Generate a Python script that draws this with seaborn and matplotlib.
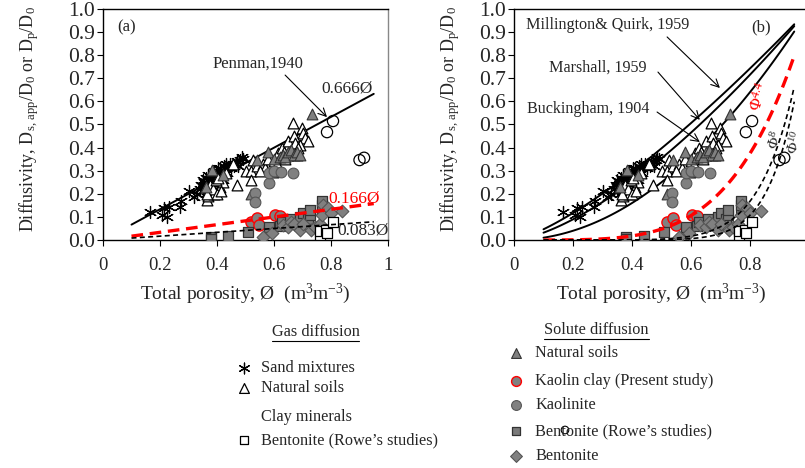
import numpy as np
import matplotlib
matplotlib.use("Agg")
import matplotlib.pyplot as plt
import seaborn as sns

# ---------------- data ----------------
# Gas diffusion: sand mixtures (asterisks)
sand_x = [0.165, 0.206, 0.224, 0.215, 0.232, 0.27, 0.275, 0.30, 0.32, 0.33, 0.34, 0.35,
          0.355, 0.36, 0.365, 0.37, 0.375, 0.38, 0.385, 0.387, 0.39, 0.395, 0.40, 0.40,
          0.405, 0.41, 0.415, 0.42, 0.425, 0.43, 0.44, 0.445, 0.455, 0.46, 0.47, 0.48,
          0.486, 0.36, 0.38, 0.40, 0.37, 0.42, 0.35, 0.39, 0.345, 0.352, 0.362, 0.368,
          0.372, 0.378, 0.383, 0.392, 0.398, 0.403, 0.408, 0.412, 0.418, 0.435, 0.45,
          0.465, 0.475, 0.49, 0.43, 0.41]
sand_y = [0.121, 0.108, 0.10, 0.14, 0.145, 0.143, 0.17, 0.21, 0.187, 0.20, 0.22, 0.23,
          0.25, 0.24, 0.21, 0.26, 0.22, 0.27, 0.25, 0.26, 0.23, 0.29, 0.28, 0.24,
          0.31, 0.29, 0.27, 0.30, 0.32, 0.31, 0.316, 0.33, 0.33, 0.32, 0.34, 0.345,
          0.36, 0.20, 0.21, 0.22, 0.28, 0.26, 0.26, 0.30, 0.24, 0.21, 0.27, 0.23,
          0.24, 0.25, 0.23, 0.26, 0.27, 0.25, 0.28, 0.26, 0.28, 0.29, 0.31,
          0.33, 0.32, 0.35, 0.33, 0.31]

# Gas diffusion: natural soils (open triangles)
gsoil_x = [0.364, 0.37, 0.38, 0.39, 0.41, 0.42, 0.457, 0.47, 0.50, 0.52, 0.52, 0.527,
           0.54, 0.56, 0.57, 0.58, 0.597, 0.60, 0.615, 0.62, 0.627, 0.635, 0.65, 0.65,
           0.66, 0.667, 0.67, 0.68, 0.697, 0.703, 0.71, 0.72, 0.64, 0.69, 0.375, 0.385,
           0.395, 0.40, 0.405, 0.415, 0.365, 0.43, 0.55, 0.61, 0.675, 0.685]
gsoil_y = [0.173, 0.19, 0.21, 0.20, 0.23, 0.25, 0.33, 0.238, 0.30, 0.30, 0.26, 0.346,
           0.32, 0.33, 0.31, 0.35, 0.295, 0.34, 0.375, 0.36, 0.40, 0.38, 0.43, 0.37,
           0.39, 0.506, 0.45, 0.37, 0.485, 0.462, 0.44, 0.43, 0.35, 0.41, 0.24, 0.22,
           0.26, 0.20, 0.27, 0.21, 0.20, 0.29, 0.30, 0.33, 0.42, 0.40]

# Gas diffusion: clay minerals (open circles)
gclay_x = [0.786, 0.807, 0.90, 0.916]
gclay_y = [0.467, 0.515, 0.346, 0.356]

# Gas diffusion: bentonite, Rowe's studies (open squares)
gbent_x = [0.762, 0.762, 0.783, 0.787, 0.807]
gbent_y = [0.02, 0.04, 0.043, 0.03, 0.078]

# Solute diffusion: natural soils (grey triangles)
ssoil_x = [0.36, 0.383, 0.42, 0.52, 0.54, 0.58, 0.60, 0.62, 0.63, 0.64, 0.65, 0.66,
           0.67, 0.68, 0.69, 0.733]
ssoil_y = [0.23, 0.305, 0.28, 0.20, 0.346, 0.38, 0.35, 0.36, 0.37, 0.36, 0.38, 0.39,
           0.37, 0.38, 0.37, 0.545]

# Solute diffusion: kaolin clay, present study (grey circles, red edge)
kaolin_x = [0.52, 0.54, 0.548, 0.603, 0.62]
kaolin_y = [0.08, 0.094, 0.065, 0.108, 0.105]

# Solute diffusion: kaolinite (grey circles)
kaolinite_x = [0.534, 0.534, 0.584, 0.584, 0.60, 0.623, 0.666]
kaolinite_y = [0.203, 0.165, 0.245, 0.29, 0.30, 0.295, 0.29]

# Solute diffusion: bentonite, Rowe's studies (grey squares)
sbentR_x = [0.38, 0.38, 0.44, 0.51, 0.584, 0.584, 0.62, 0.628, 0.656, 0.69, 0.70,
            0.72, 0.727, 0.727, 0.768, 0.768, 0.768]
sbentR_y = [0.013, 0.005, 0.017, 0.034, 0.043, 0.055, 0.06, 0.078, 0.09, 0.10, 0.115,
            0.09, 0.108, 0.128, 0.13, 0.152, 0.17]

# Solute diffusion: bentonite (grey diamonds)
sbent_x = [0.56, 0.592, 0.63, 0.65, 0.66, 0.67, 0.69, 0.70, 0.73, 0.744, 0.76,
           0.768, 0.773, 0.79, 0.80, 0.838]
sbent_y = [0.012, 0.03, 0.066, 0.055, 0.08, 0.068, 0.043, 0.07, 0.045, 0.057, 0.07,
           0.11, 0.15, 0.14, 0.115, 0.127]

# Model coefficients / exponents
penman_coef = 0.666
red_coef = 0.166
black_coef = 0.083
mq_exp = 4 / 3
marshall_exp = 1.5
buck_exp = 2.0
red_exp = 4.4
exp8 = 8.0
exp10 = 10.0

x_ticks_a = [0, 0.2, 0.4, 0.6, 0.8, 1.0]
x_tick_labels_a = ["0", "0.2", "0.4", "0.6", "0.8", "1"]
y_ticks = [round(0.1 * i, 1) for i in range(11)]
y_tick_labels = [f"{v:.1f}" for v in y_ticks]

# ---------------- style ----------------
sns.set_theme(style="white")
plt.rcParams["font.family"] = ["Liberation Serif", "DejaVu Serif"]
plt.rcParams["mathtext.fontset"] = "custom"
plt.rcParams["mathtext.rm"] = "Liberation Serif"
plt.rcParams["mathtext.it"] = "Liberation Serif:italic"

GREY = "#808080"
XTICK_FS = 13.5
YTICK_FS = 15.5
LABEL_FS = 14

W, H = 805, 468
fig = plt.figure(figsize=(W / 100, H / 100), dpi=100)


def px_axes(left, top, right, bottom):
    return fig.add_axes([left / W, 1 - bottom / H, (right - left) / W, (bottom - top) / H])


ax_a = px_axes(103, 9, 388, 240)
ax_b = px_axes(514, 9, 809, 240)

xs = np.linspace(0.1, 0.95, 120)


def draw_points(ax):
    kw = dict(ax=ax, legend=False, zorder=3)
    sns.scatterplot(x=sand_x, y=sand_y, marker=(6, 2, 0), s=75, color="black",
                    linewidth=0.9, **kw)
    sns.scatterplot(x=gsoil_x, y=gsoil_y, marker="^", s=60, facecolor="white",
                    edgecolor="black", linewidth=0.9, **kw)
    sns.scatterplot(x=ssoil_x, y=ssoil_y, marker="^", s=60, color=GREY,
                    edgecolor="#333333", linewidth=0.8, **kw)
    sns.scatterplot(x=kaolinite_x, y=kaolinite_y, marker="o", s=60, color=GREY,
                    edgecolor="#555555", linewidth=0.8, **kw)
    sns.scatterplot(x=kaolin_x, y=kaolin_y, marker="o", s=65, color=GREY,
                    edgecolor="red", linewidth=1.0, **kw)
    sns.scatterplot(x=sbentR_x, y=sbentR_y, marker="s", s=55, color="#7a7a7a",
                    edgecolor="#333333", linewidth=0.9, **kw)
    sns.scatterplot(x=sbent_x, y=sbent_y, marker="D", s=42, color=GREY,
                    edgecolor="#555555", linewidth=0.8, **kw)
    sns.scatterplot(x=gbent_x, y=gbent_y, marker="s", s=50, facecolor="white",
                    edgecolor="black", linewidth=0.9, **kw)
    sns.scatterplot(x=gclay_x, y=gclay_y, marker="o", s=65, facecolor="none",
                    edgecolor="black", linewidth=0.9, **kw)


def style_axes(ax, xticks, xlabels, xlim, ylabel_x):
    ax.set_xlim(*xlim)
    ax.set_ylim(0, 1.0)
    ax.set_xticks(xticks)
    ax.set_xticklabels(xlabels, fontsize=XTICK_FS)
    ax.set_yticks(y_ticks)
    ax.set_yticklabels(y_tick_labels, fontsize=YTICK_FS)
    ax.tick_params(direction="out", length=4, width=0.8, color="black",
                   bottom=True, left=True)
    ax.tick_params(axis="x", pad=8)
    ax.tick_params(axis="y", pad=2)
    for s in ax.spines.values():
        s.set_color("black")
        s.set_linewidth(1.0)
    ax.spines["right"].set_color("#888888")
    ax.set_xlabel(r"Total porosity, Ø  (m$^3$m$^{-3}$)", fontsize=LABEL_FS, labelpad=6)
    ax.set_ylabel(r"Diffusivity, D$_{\mathrm{s,\,app}}$/D$_0$ or D$_\mathrm{p}$/D$_0$",
                  fontsize=13)
    ax.yaxis.set_label_coords(ylabel_x, 0.525)
    ax.grid(False)


arrow_kw = dict(arrowstyle="->", color="black", lw=0.8, shrinkA=0, shrinkB=0,
                mutation_scale=14)

# ---------- panel (a) ----------
draw_points(ax_a)
sns.lineplot(x=xs, y=penman_coef * xs, ax=ax_a, color="black", lw=1.4, zorder=2)
sns.lineplot(x=xs, y=red_coef * xs, ax=ax_a, color="red", lw=2.4, zorder=4)
ax_a.lines[-1].set_linestyle((0, (3.5, 2)))
sns.lineplot(x=xs, y=black_coef * xs, ax=ax_a, color="black", lw=1.2, zorder=4)
ax_a.lines[-1].set_linestyle((0, (3, 2)))
style_axes(ax_a, x_ticks_a, x_tick_labels_a, (0, 1), -0.219)

ax_a.text(0.05, 0.955, "(a)", transform=ax_a.transAxes, fontsize=12, va="top")
ax_a.text(0.385, 0.765, "Penman,1940", fontsize=12, ha="left", va="center")
ax_a.annotate("", xy=(0.786, 0.532), xytext=(0.639, 0.714), arrowprops=arrow_kw)
ax_a.text(0.765, 0.655, "0.666Ø", fontsize=12.5, ha="left", va="center")
ax_a.text(0.79, 0.18, "0.166Ø", fontsize=12.5, color="red", ha="left", va="center")
ax_a.text(0.822, 0.043, "0.083Ø", fontsize=12.5, ha="left", va="center")

# ---------- panel (b) ----------
draw_points(ax_b)
for e in (mq_exp, marshall_exp, buck_exp):
    sns.lineplot(x=xs, y=xs ** e, ax=ax_b, color="black", lw=1.4, zorder=2)
sns.lineplot(x=xs, y=xs ** red_exp, ax=ax_b, color="red", lw=2.4, zorder=4)
ax_b.lines[-1].set_linestyle((0, (3.5, 2)))
for e in (exp8, exp10):
    sns.lineplot(x=xs, y=xs ** e, ax=ax_b, color="black", lw=1.2, zorder=4)
    ax_b.lines[-1].set_linestyle((0, (3, 2)))
style_axes(ax_b, x_ticks_a[:-1], x_tick_labels_a[:-1], (0, 1), -0.175)

ax_b.text(0.805, 0.955, "(b)", transform=ax_b.transAxes, fontsize=12, va="top")
ax_b.text(0.04, 0.93, "Millington& Quirk, 1959", fontsize=11.6, ha="left", va="center")
ax_b.annotate("", xy=(0.698, 0.658), xytext=(0.519, 0.879), arrowprops=arrow_kw)
ax_b.text(0.12, 0.745, "Marshall, 1959", fontsize=11.6, ha="left", va="center")
ax_b.annotate("", xy=(0.63, 0.52), xytext=(0.488, 0.727), arrowprops=arrow_kw)
ax_b.text(0.045, 0.565, "Buckingham, 1904", fontsize=11.6, ha="left", va="center")
ax_b.annotate("", xy=(0.63, 0.424), xytext=(0.485, 0.554), arrowprops=arrow_kw)
ax_b.text(0.834, 0.62, r"Φ$^{\mathit{4.4}}$", fontsize=12, color="red", rotation=72,
          ha="center", va="center")
ax_b.text(0.885, 0.433, r"Φ$^{\mathit{8}}$", fontsize=11, rotation=72,
          ha="center", va="center")
ax_b.text(0.953, 0.42, r"Φ$^{\mathit{10}}$", fontsize=11, rotation=72,
          ha="center", va="center")

# ---------- legend panel ----------
lg = fig.add_axes([0, 0, 1, 1], facecolor="none")
lg.set_xlim(0, W)
lg.set_ylim(H, 0)
lg.axis("off")
LEG_FS = 11.7

lg.text(272, 332, "Gas diffusion", fontsize=LEG_FS, va="center", ha="left")
lg.plot([272, 359], [341, 341], color="black", lw=0.8)
gas_items = [
    ((6, 2, 0), dict(color="black", s=60, linewidth=0.9), 368, "Sand mixtures"),
    ("^", dict(facecolor="white", edgecolor="black", s=50, linewidth=0.9), 388, "Natural soils"),
    (None, None, 417, "Clay minerals"),
    ("s", dict(facecolor="white", edgecolor="black", s=40, linewidth=0.9), 440,
     "Bentonite (Rowe’s studies)"),
]
for mk, kw, y, label in gas_items:
    if mk is not None:
        lg.scatter([244], [y], marker=mk, **kw)
    lg.text(261, y, label, fontsize=LEG_FS, va="center", ha="left")

lg.text(544, 330, "Solute diffusion", fontsize=LEG_FS, va="center", ha="left")
lg.plot([544, 649], [339, 339], color="black", lw=0.8)
sol_items = [
    ("^", dict(color=GREY, edgecolor="#333333", s=50, linewidth=0.8), 353, "Natural soils"),
    ("o", dict(color=GREY, edgecolor="red", s=50, linewidth=1.0), 381,
     "Kaolin clay (Present study)"),
    ("o", dict(color=GREY, edgecolor="#555555", s=50, linewidth=0.8), 405, "Kaolinite"),
    ("s", dict(color="#7a7a7a", edgecolor="#333333", s=40, linewidth=0.9), 431,
     "Bentonite (Rowe’s studies)"),
    ("D", dict(color=GREY, edgecolor="#555555", s=36, linewidth=0.8), 456, "Bentonite"),
]
for mk, kw, y, label in sol_items:
    lg.scatter([516], [y], marker=mk, **kw)
    lg.text(535, y, label, fontsize=LEG_FS, va="center", ha="left")
lg.scatter([565], [430], marker="o", s=30, facecolor="none", edgecolor="black",
           linewidth=0.8)

fig.savefig("out.png", dpi=100)
